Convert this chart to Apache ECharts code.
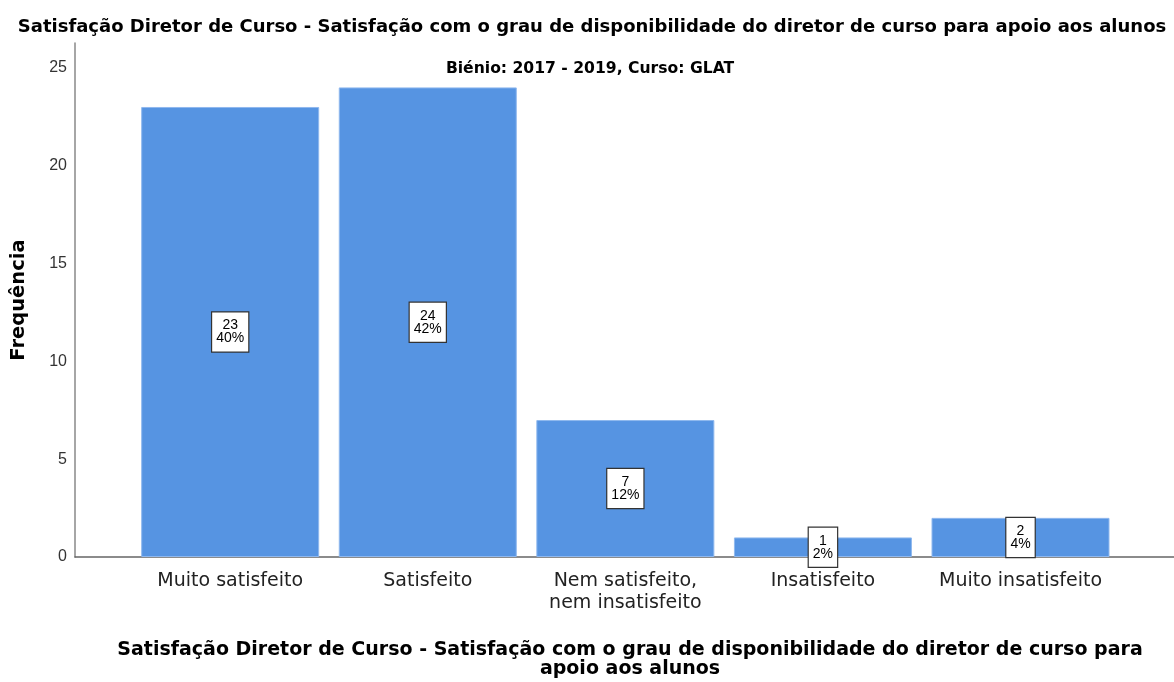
<!DOCTYPE html>
<html>
<head>
<meta charset="utf-8">
<script src="https://cdn.jsdelivr.net/npm/echarts@6/dist/echarts.min.js"></script>
<style>
  html, body { margin: 0; padding: 0; background: #ffffff; }
  #chart { width: 1174px; height: 682px; }
</style>
</head>
<body>
<div id="chart"></div>
<script>
// Response categories and counts
const categories = ['Muito satisfeito', 'Satisfeito', 'Nem satisfeito,\nnem insatisfeito', 'Insatisfeito', 'Muito insatisfeito'];
const counts = [23, 24, 7, 1, 2];
const percents = ['40%', '42%', '12%', '2%', '4%'];
const yTicks = [0, 5, 10, 15, 20, 25];

const titleText = 'Satisfação Diretor de Curso - Satisfação com o grau de disponibilidade do diretor de curso para apoio aos alunos';
const subtitleText = 'Biénio: 2017 - 2019, Curso: GLAT';
const xTitleText = 'Satisfação Diretor de Curso - Satisfação com o grau de disponibilidade do diretor de curso para\napoio aos alunos';

const yMax = 26.27;
const SANS = '"DejaVu Sans", Arial, sans-serif';
const ARIAL = '"Liberation Sans", Arial, sans-serif';

const chart = echarts.init(document.getElementById('chart'), null, { renderer: 'canvas' });

chart.setOption({
  backgroundColor: '#ffffff',
  animation: false,
  title: [
    {
      text: titleText, left: 587, textAlign: 'center', top: 13,
      textStyle: { fontFamily: SANS, fontSize: 18, fontWeight: 'bold', color: '#000' }
    },
    {
      text: subtitleText, left: 585, textAlign: 'center', top: 56,
      textStyle: { fontFamily: SANS, fontSize: 15.6, fontWeight: 'bold', color: '#000' }
    },
    {
      text: xTitleText, left: 625, textAlign: 'center', top: 636,
      textStyle: { fontFamily: SANS, fontSize: 19, fontWeight: 'bold', color: '#000', lineHeight: 19 }
    }
  ],
  grid: [
    // frame grid: carries the visible axis lines and y tick labels
    { left: 75, right: 0, top: 43, bottom: 125 },
    // bar grid: category bands
    { left: 131.4, right: 54.7, top: 43, bottom: 125 }
  ],
  xAxis: [
    {
      gridIndex: 0, type: 'value', min: 0, max: 1,
      axisLine: { show: true, lineStyle: { color: '#666', width: 1.5 } },
      axisTick: { show: false }, axisLabel: { show: false }, splitLine: { show: false }
    },
    {
      gridIndex: 1, type: 'category', data: categories,
      axisLine: { show: false }, axisTick: { show: false },
      axisLabel: {
        interval: 0, margin: 13, color: '#222',
        fontFamily: SANS, fontSize: 19, lineHeight: 22
      }
    }
  ],
  yAxis: [
    {
      gridIndex: 0, type: 'value', min: 0, max: yMax, interval: 5,
      name: 'Frequência', nameLocation: 'middle', nameGap: 46,
      nameTextStyle: { fontFamily: SANS, fontSize: 19.5, fontWeight: 'bold', color: '#000' },
      axisLine: { show: true, lineStyle: { color: '#888', width: 1.5 } },
      axisTick: { show: false },
      axisLabel: {
        showMaxLabel: false, margin: 8, color: '#333',
        fontFamily: ARIAL, fontSize: 16,
        formatter: v => (yTicks.includes(v) ? String(v) : '')
      },
      splitLine: { show: false }
    },
    {
      gridIndex: 1, type: 'value', min: 0, max: yMax, show: false
    }
  ],
  series: [
    {
      type: 'bar', xAxisIndex: 1, yAxisIndex: 1,
      data: counts, barWidth: 178,
      itemStyle: { color: '#5694e2', borderColor: '#8fb8ee', borderWidth: 1 },
      label: {
        show: true, position: 'inside',
        formatter: p => p.value + '\n' + percents[p.dataIndex],
        fontFamily: ARIAL, fontSize: 14, lineHeight: 13, color: '#000',
        backgroundColor: '#ffffff', borderColor: '#333', borderWidth: 1.2,
        padding: [7, 4, 6, 4], align: 'center'
      }
    }
  ]
});
</script>
</body>
</html>
